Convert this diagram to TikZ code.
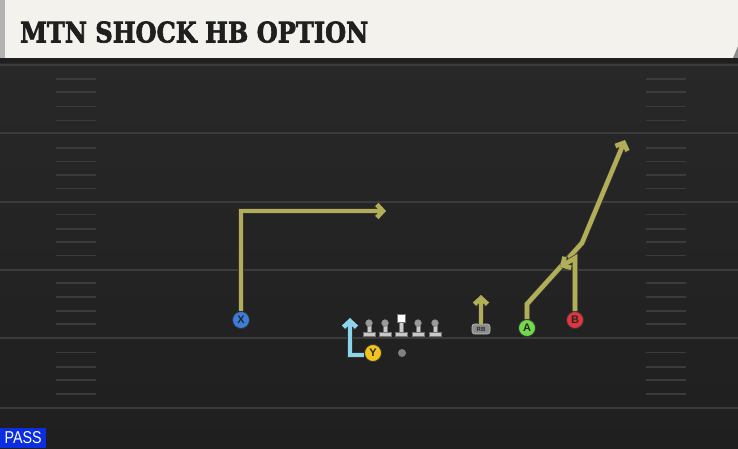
\documentclass[tikz,border=0pt]{standalone}
\usepackage{fontspec}
\setmainfont{DejaVu Sans}
\newfontfamily\titlefont[FakeBold=2.5]{DejaVu Serif}
\newfontfamily\plyfont{Liberation Sans}
\usetikzlibrary{arrows.meta}
\definecolor{fieldtop}{HTML}{282828}
\definecolor{fieldbot}{HTML}{1F1F1F}
\definecolor{hdrbg}{HTML}{F4F2EC}
\definecolor{lineclr}{HTML}{3B3B3B}
\definecolor{routeol}{HTML}{B2AE58}
\definecolor{routebl}{HTML}{8CD3EC}
\definecolor{xblue}{HTML}{3C7DDC}
\definecolor{yyellow}{HTML}{F2C31C}
\definecolor{agreen}{HTML}{72D94C}
\definecolor{bred}{HTML}{E0373F}
\definecolor{passblue}{HTML}{0A2EE0}
\definecolor{lgray}{HTML}{C9C9C9}
\definecolor{hgray}{HTML}{9A9A9A}
\tikzset{
  fieldline/.style={draw=lineclr, line width=2pt},
  hashmark/.style={draw=lineclr, line width=1.6pt},
  player/.style={circle, minimum size=17pt, inner sep=0pt, draw=black!80, line width=0.8pt,
    font=\plyfont\bfseries\fontsize{11}{11}\selectfont, text=black!85},
  route/.style={draw=routeol, line width=4.6pt,
    preaction={draw=black!80, line width=6pt},
    -{Straight Barb[length=6pt,width=13pt]}},
  yroute/.style={route, draw=routebl},
  lman/.pic={
    \fill[lgray, draw=black!55, line width=0.4pt] (-6,0) rectangle (6,-4);
    \fill[lgray, draw=black!55, line width=0.4pt] (-2,-4) rectangle (2,-10.5);
    \fill[hgray, draw=black!55, line width=0.4pt] (0,-13) circle (3.5pt);
  },
  cman/.pic={
    \fill[lgray, draw=black!55, line width=0.4pt] (-6,0) rectangle (6,-4);
    \fill[lgray, draw=black!55, line width=0.4pt] (-2,-4) rectangle (2,-14);
    \fill[white, draw=black!55, line width=0.4pt] (-4,-14) rectangle (4,-22);
  }
}
\begin{document}
\begin{tikzpicture}[x=1pt,y=-1pt]
\useasboundingbox (0,0) rectangle (738,448);
% field
\shade[top color=fieldtop, bottom color=fieldbot] (0,58) rectangle (738,448);
% header
\fill[hdrbg] (0,0) -- (738,0) -- (738,46) -- (733,58) -- (0,58) -- cycle;
\fill[black!45] (738,46) -- (738,58) -- (733,58) -- cycle;
\fill[black!30] (0,0) rectangle (5,58);
\fill[black!88] (0,58) rectangle (738,63);
\node[anchor=south west, inner sep=0pt, text=black!88] (title) at (20,43)
  {\resizebox{348pt}{21pt}{\titlefont\bfseries MTN SHOCK HB OPTION}};
% yard lines
\foreach \yy in {65,133,201.5,270,338,408} \draw[fieldline] (0,\yy) -- (738,\yy);
\foreach \yy in {79,92,106.5,120.5,148,161.5,175,188.5,214.5,229,242,255.5,283,297,311,324,352.5,367,380,394}{
  \draw[hashmark] (56,\yy) -- (96,\yy);
  \draw[hashmark] (646,\yy) -- (686,\yy);
}
% offensive line
\pic (lt) at (369,336) {lman};
\pic (lg) at (385,336) {lman};
\pic (c) at (401,336) {cman};
\pic (rg) at (418,336) {lman};
\pic (rt) at (435,336) {lman};
\node[circle, fill=black!50, minimum size=8pt, inner sep=0pt] (ball) at (402,353) {};
% players
\node[player, fill=xblue] (X) at (241,320) {X};
\node[player, fill=yyellow] (Y) at (373,353) {Y};
\node[player, fill=agreen] (A) at (527,328) {A};
\node[player, fill=bred] (B) at (575,320) {B};
\node[rounded corners=2.5pt, fill=black!45, draw=black!25, line width=0.6pt, minimum width=18pt, minimum height=10pt,
  inner sep=0pt, font=\plyfont\bfseries\fontsize{6}{6}\selectfont, text=black!85] (RB) at (481,329) {RB};
% route coordinates
\coordinate (x1) at (241,211);
\coordinate (x2) at (386,211);
\coordinate (y1) at (350,355);
\coordinate (y2) at (350,318);
\coordinate (r1) at (481,295);
\coordinate (a1) at (527,304);
\coordinate (a2) at (582,243);
\coordinate (a3) at (625,140);
\coordinate (b1) at (575,258);
\coordinate (b2) at (560,267);
% routes
\draw[route] (X.north) -- (x1) -- (x2);
\draw[yroute] (Y.west |- y1) -- (y1) -- (y2);
\draw[route] (RB.north) -- (r1);
\draw[route] (A.north) -- (a1) -- (a2) -- (a3);
\draw[route] (B.north) -- (b1) -- (b2);
% play type
\node[fill=passblue, anchor=south west, minimum width=46pt, minimum height=20pt, inner sep=0pt, text=white] (pass) at (0,448)
  {\resizebox{37pt}{12pt}{\plyfont PASS}};
\end{tikzpicture}
\end{document}
